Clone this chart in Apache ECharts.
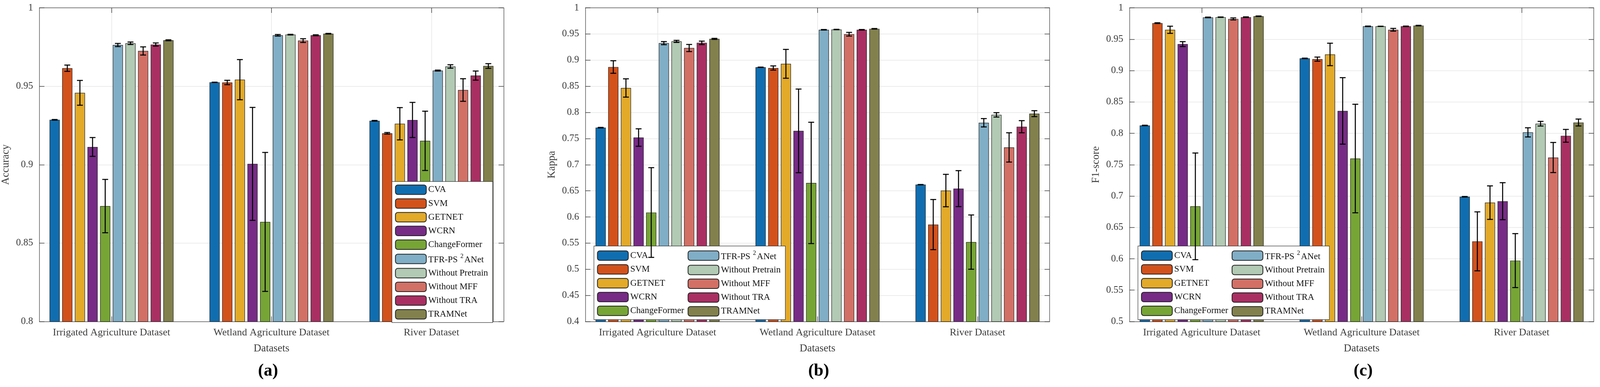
<!DOCTYPE html>
<html lang="en">
<head>
<meta charset="UTF-8">
<title>Accuracy / Kappa / F1-score</title>
<script src="https://cdn.jsdelivr.net/npm/echarts@6/dist/echarts.min.js"></script>
<style>
    html, body { margin: 0; padding: 0; background: #fff; overflow: hidden; }
    #chart { width: 100vw; height: 100vh; }
</style>
</head>
<body>
<div id="chart"></div>
<script>
    const datasets = ['Irrigated Agriculture Dataset', 'Wetland Agriculture Dataset', 'River Dataset'];
    const methods = ['CVA', 'SVM', 'GETNET', 'WCRN', 'ChangeFormer', 'TFR-PS2ANet',
        'Without Pretrain', 'Without MFF', 'Without TRA', 'TRAMNet'];
    const colors = ['#106EB0', '#D3521C', '#E3AA29', '#772B86', '#77A535',
        '#80AEC6', '#B2C9B3', '#D37066', '#A92F62', '#82814D'];

    // (a) Accuracy
    const accIrr = [0.9286, 0.9615, 0.9458, 0.9113, 0.8736, 0.9763, 0.9774, 0.9725, 0.9766, 0.9793];
    const accIrrErr = [0.0002, 0.0020, 0.0079, 0.0060, 0.0170, 0.0010, 0.0008, 0.0026, 0.0010, 0.0003];
    const accWet = [0.9525, 0.9524, 0.9542, 0.9005, 0.8635, 0.9825, 0.9829, 0.9791, 0.9825, 0.9835];
    const accWetErr = [0.0001, 0.0014, 0.0128, 0.0360, 0.0443, 0.0005, 0.0002, 0.0012, 0.0003, 0.0002];
    const accRiv = [0.9280, 0.9200, 0.9261, 0.9285, 0.9152, 0.9600, 0.9626, 0.9476, 0.9568, 0.9629];
    const accRivErr = [0.0002, 0.0005, 0.0103, 0.0112, 0.0189, 0.0003, 0.0011, 0.0072, 0.0029, 0.0015];

    // (b) Kappa
    const kapIrr = [0.7708, 0.8868, 0.8467, 0.7519, 0.6085, 0.9325, 0.9358, 0.9231, 0.9330, 0.9406];
    const kapIrrErr = [0.0005, 0.0120, 0.0175, 0.0167, 0.0858, 0.0030, 0.0020, 0.0068, 0.0033, 0.0010];
    const kapWet = [0.8863, 0.8849, 0.8929, 0.7646, 0.6651, 0.9580, 0.9585, 0.9495, 0.9580, 0.9599];
    const kapWetErr = [0.0003, 0.0040, 0.0276, 0.0800, 0.1160, 0.0005, 0.0004, 0.0035, 0.0005, 0.0005];
    const kapRiv = [0.6618, 0.5854, 0.6505, 0.6542, 0.5519, 0.7802, 0.7953, 0.7330, 0.7726, 0.7976];
    const kapRivErr = [0.0003, 0.0480, 0.0310, 0.0344, 0.0519, 0.0080, 0.0042, 0.0280, 0.0116, 0.0057];

    // (c) F1-score
    const f1Irr = [0.8125, 0.9756, 0.9650, 0.9422, 0.6836, 0.9847, 0.9851, 0.9823, 0.9851, 0.9866];
    const f1IrrErr = [0.0004, 0.0006, 0.0057, 0.0039, 0.0850, 0.0005, 0.0003, 0.0016, 0.0005, 0.0004];
    const f1Wet = [0.9194, 0.9182, 0.9257, 0.8357, 0.7598, 0.9705, 0.9705, 0.9650, 0.9705, 0.9717];
    const f1WetErr = [0.0004, 0.0033, 0.0179, 0.0530, 0.0865, 0.0004, 0.0002, 0.0022, 0.0004, 0.0004];
    const f1Riv = [0.6989, 0.6278, 0.6895, 0.6918, 0.5971, 0.8015, 0.8153, 0.7614, 0.7960, 0.8172];
    const f1RivErr = [0.0004, 0.0470, 0.0267, 0.0295, 0.0430, 0.0073, 0.0037, 0.0240, 0.0102, 0.0055];

    const panels = [
        { label: '(a)', yName: 'Accuracy', yMin: 0.8, means: [accIrr, accWet, accRiv], errs: [accIrrErr, accWetErr, accRivErr] },
        { label: '(b)', yName: 'Kappa', yMin: 0.4, means: [kapIrr, kapWet, kapRiv], errs: [kapIrrErr, kapWetErr, kapRivErr] },
        { label: '(c)', yName: 'F1-score', yMin: 0.5, means: [f1Irr, f1Wet, f1Riv], errs: [f1IrrErr, f1WetErr, f1RivErr] }
    ];

    const FONT = 'Liberation Serif';
    const chart = echarts.init(document.getElementById('chart'));
    // layout was measured on a 4202 px wide figure; scale horizontally to the real width
    const sx = chart.getWidth() / 4202;

    const gridLeft = [103.3, 1537.3, 2966.3].map(v => v * sx);
    const gridTop = 20, gridW = 1219.4 * sx, gridH = 802.5;
    const xMin = 0.5487, xMax = 3.4513;
    const barW = 26.7 * sx, barPitch = 33.2 * sx;
    const tickColor = '#444', boxColor = '#5a5a5a', gridColor = '#e6e6e6', labelColor = '#3c3c3c';

    const grid = [], xAxis = [], yAxis = [], series = [], title = [];

    panels.forEach((p, g) => {
        grid.push({ left: gridLeft[g], top: gridTop, width: gridW, height: gridH, containLabel: false, outerBoundsMode: 'none' });
        title.push({
            text: p.label, left: [704, 2150, 3580][g] * sx, top: 928, textAlign: 'center', padding: 0,
            textStyle: { fontFamily: FONT, fontSize: 44, fontWeight: 'bold', color: '#000' }
        });
    });

    // bottom / left axes first, then top / right mirror axes (box + inside ticks)
    panels.forEach((p, g) => {
        xAxis.push({
            type: 'value', gridIndex: g, min: xMin, max: xMax, position: 'bottom',
            name: 'Datasets', nameLocation: 'middle', nameGap: 56,
            nameTextStyle: { fontFamily: FONT, fontSize: 27, color: labelColor },
            axisLine: { show: true, onZero: false, lineStyle: { color: boxColor, width: 1.5 } },
            axisTick: { show: true, inside: true, length: 13, customValues: [1, 2, 3], lineStyle: { color: tickColor, width: 1.5 } },
            axisLabel: {
                customValues: [1, 2, 3], margin: 16, formatter: v => datasets[Math.round(v) - 1],
                fontFamily: FONT, fontSize: 26, color: labelColor
            },
            splitLine: { show: true, lineStyle: { color: gridColor, width: 1.5 } }
        });
        yAxis.push({
            type: 'value', gridIndex: g, min: p.yMin, max: 1, interval: 0.05, position: 'left',
            name: p.yName, nameLocation: 'middle', nameGap: 72,
            nameTextStyle: { fontFamily: FONT, fontSize: 27, color: labelColor },
            axisLine: { show: true, onZero: false, lineStyle: { color: boxColor, width: 1.5 } },
            axisTick: { show: true, inside: true, length: 13, lineStyle: { color: tickColor, width: 1.5 } },
            axisLabel: { margin: 16, fontFamily: FONT, fontSize: 25, color: labelColor },
            splitLine: { show: true, lineStyle: { color: gridColor, width: 1.5 } }
        });
    });
    panels.forEach((p, g) => {
        xAxis.push({
            type: 'value', gridIndex: g, min: xMin, max: xMax, position: 'top',
            axisLine: { show: true, onZero: false, lineStyle: { color: boxColor, width: 1.5 } },
            axisTick: { show: true, inside: true, length: 13, customValues: [1, 2, 3], lineStyle: { color: tickColor, width: 1.5 } },
            axisLabel: { show: false }, splitLine: { show: false }
        });
        yAxis.push({
            type: 'value', gridIndex: g, min: p.yMin, max: 1, interval: 0.05, position: 'right',
            axisLine: { show: true, onZero: false, lineStyle: { color: boxColor, width: 1.5 } },
            axisTick: { show: true, inside: true, length: 13, lineStyle: { color: tickColor, width: 1.5 } },
            axisLabel: { show: false }, splitLine: { show: false }
        });
    });

    panels.forEach((p, g) => {
        methods.forEach((m, i) => {
            series.push({
                type: 'bar', name: m, xAxisIndex: g, yAxisIndex: g,
                barWidth: barW, barGap: ((barPitch - barW) / barW * 100).toFixed(2) + '%',
                clip: true,
                itemStyle: { color: colors[i], borderColor: '#222', borderWidth: 1.2 },
                data: p.means.map((arr, c) => [c + 1, arr[i]])
            });
        });
        const errData = [];
        p.means.forEach((arr, c) => arr.forEach((v, i) => errData.push([c + 1, i, v, p.errs[c][i]])));
        series.push({
            type: 'custom', name: 'err' + g, xAxisIndex: g, yAxisIndex: g, z: 5,
            encode: { x: 0, y: 2 },
            data: errData,
            renderItem: (params, api) => {
                const c = api.value(0), i = api.value(1), v = api.value(2), e = api.value(3);
                const hi = api.coord([c, v + e]);
                const lo = api.coord([c, v - e]);
                const x = hi[0] + (i - 4.5) * barPitch;
                const st = { stroke: '#000', lineWidth: 2.6 };
                const cap = 7.5;
                return {
                    type: 'group', children: [
                        { type: 'line', shape: { x1: x, y1: hi[1], x2: x, y2: lo[1] }, style: st },
                        { type: 'line', shape: { x1: x - cap, y1: hi[1], x2: x + cap, y2: hi[1] }, style: st },
                        { type: 'line', shape: { x1: x - cap, y1: lo[1], x2: x + cap, y2: lo[1] }, style: st }
                    ]
                };
            }
        });
    });

    const legendText = name => name === 'TFR-PS2ANet' ? '{n|TFR-PS }{sup|2}{n|ANet}' : name;
    const legendBase = {
        orient: 'vertical', selectedMode: false, itemWidth: 79, itemHeight: 24.3, itemGap: 9,
        backgroundColor: '#fff', borderColor: '#333', borderWidth: 1.2,
        formatter: legendText,
        textStyle: {
            fontFamily: FONT, fontSize: 23, color: '#111', width: 168, overflow: 'none',
            rich: {
                n: { fontFamily: FONT, fontSize: 23, color: '#111', verticalAlign: 'bottom' },
                sup: { fontFamily: FONT, fontSize: 16, color: '#111', verticalAlign: 'bottom', padding: [0, 2, 13, 1] }
            }
        },
        data: methods
    };
    const legend = [
        Object.assign({}, legendBase, { left: 1029.3 * sx, top: 464.3, height: 400, itemGap: 8.8, padding: [8, 12, 8, 8] }),
        Object.assign({}, legendBase, { left: 1559.8 * sx, top: 629.4, height: 170, padding: [10, 12, 8, 8] }),
        Object.assign({}, legendBase, { left: 2988.5 * sx, top: 629.4, height: 170, padding: [10, 12, 8, 8] })
    ];

    chart.setOption({
        animation: false,
        backgroundColor: '#fff',
        title: title,
        legend: legend,
        grid: grid,
        xAxis: xAxis,
        yAxis: yAxis,
        series: series
    });
    window.addEventListener('resize', () => chart.resize());
</script>
</body>
</html>
